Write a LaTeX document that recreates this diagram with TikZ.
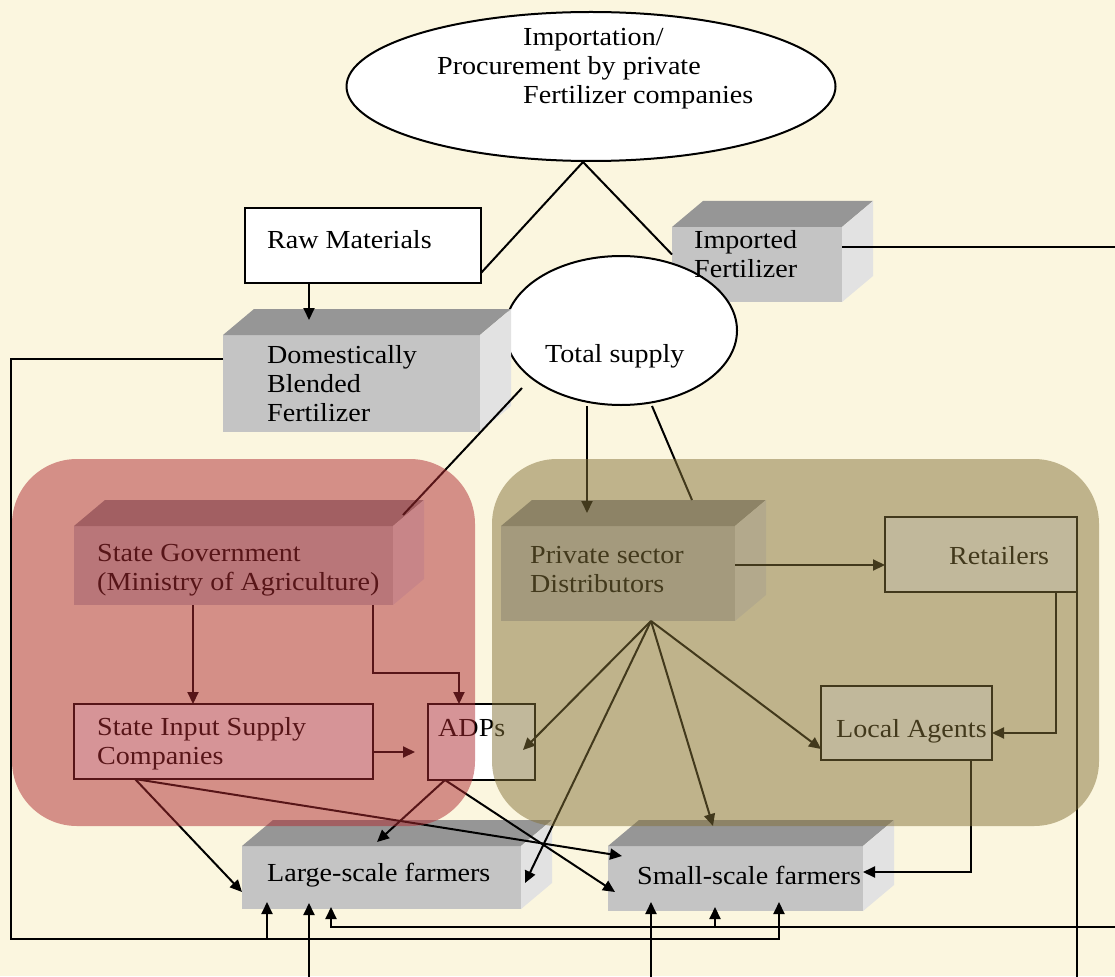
\documentclass[tikz,border=0pt]{standalone}
\usepackage{fontspec}
\setmainfont{Liberation Serif}[FakeStretch=1.08]
\usetikzlibrary{arrows.meta,shapes.geometric}
\definecolor{bgc}{RGB}{251,246,223}
\definecolor{redp}{RGB}{175,42,48}
\definecolor{tanp}{RGB}{133,114,56}
\definecolor{cfront}{RGB}{196,196,196}
\definecolor{ctop}{RGB}{150,150,150}
\definecolor{cside}{RGB}{226,226,226}
\newcommand\mycube[5]{%
  \node[cubefront, minimum width=#4pt, minimum height=#5pt, anchor=north west] (#1) at (#2,#3) {};
  \fill[ctop] (#1.north west) -- ([shift={(31,-26)}]#1.north west) -- ([shift={(31,-26)}]#1.north east) -- (#1.north east) -- cycle;
  \fill[cside] (#1.north east) -- ([shift={(31,-26)}]#1.north east) -- ([shift={(31,-26)}]#1.south east) -- (#1.south east) -- cycle;
}
\newcommand\myflat[5]{%
  \node[flatbox, minimum width=#4pt, minimum height=#5pt, anchor=north west] (#1) at (#2,#3) {};
}
\begin{document}
\begin{tikzpicture}[x=1pt,y=-1pt,
  cubefront/.style={fill=cfront, inner sep=0, outer sep=0},
  flatbox/.style={draw=black, fill=white, line width=1.5pt, inner sep=0, outer sep=0},
  oval/.style={ellipse, draw=black, fill=white, line width=2pt, inner sep=0},
  txt/.style={font=\fontsize{26}{29}\selectfont, inner sep=0, align=left, anchor=west},
  ln/.style={draw=black, line width=2pt},
  arr/.style={ln, -{Triangle[length=12pt,width=11pt]}},
  panel/.style={fill opacity=0.5, rounded corners=65pt}]
\useasboundingbox (0,0) rectangle (1115,976);
\clip (0,0) rectangle (1115,976);
\fill[bgc] (0,0) rectangle (1115,976);

% imported fertilizer box
\mycube{imf}{672}{227}{170}{75}
% top ellipse
\node[oval, minimum width=489pt, minimum height=149pt] (imp) at (591,86.5) {};
\myflat{rm}{245}{208}{236}{75}
\coordinate (apex) at (583,162);
\draw[ln] (apex) -- ([yshift=10pt]rm.south east);
\draw[ln] (apex) -- ([yshift=10pt]imf.west);
% total supply
\node[oval, minimum width=232pt, minimum height=149pt] (ts) at (621,330.5) {};
% domestically blended
\mycube{dbf}{223}{335}{257}{97}
% other boxes
\mycube{sg}{74}{526}{319}{79}
\mycube{ps}{501}{526}{234}{95}
\mycube{lsf}{242}{846}{279}{63}
\mycube{ssf}{608}{846}{255}{65}
\myflat{sis}{74}{704}{299}{75}
\myflat{adp}{428}{704}{107}{76}
\myflat{ret}{885}{517}{192}{75}
\myflat{la}{821}{686}{171}{74}

% connectors
\draw[arr] ([xshift=-54pt]rm.south) -- ++(0,37);
\coordinate (cornerL) at (11,939);
\draw[arr] ([yshift=25pt]dbf.west) -| (cornerL) -| ([xshift=43.5pt,yshift=9pt]ssf.south);
\coordinate (brL) at (267,939);
\draw[arr] (brL) -- ([xshift=-114.5pt,yshift=7pt]lsf.south);
\coordinate (cornerR2) at (1130,927);
\draw[arr] ([yshift=18pt]imf.east) -| (cornerR2) -| ([xshift=-50.5pt,yshift=2pt]lsf.south);
\coordinate (brR) at (715,927);
\draw[arr] (brR) -- ([xshift=-20.5pt,yshift=4pt]ssf.south);
\coordinate (inL) at (309,990);
\draw[arr] (inL) -- ([xshift=-72.5pt,yshift=6pt]lsf.south);
\coordinate (inS) at (651,990);
\draw[arr] (inS) -- ([xshift=-84.5pt,yshift=9pt]ssf.south);
\coordinate (outR) at (1077,990);
\draw[ln] (ret.south east) -- (outR);
\draw[arr] ([xshift=-21pt]ret.south east) |- ([yshift=-10pt]la.east);
\draw[arr] ([xshift=-21pt]la.south east) |- ([yshift=6.5pt]ssf.east);
\draw[arr] ([yshift=8.5pt]ps.east) -- ([yshift=-10.5pt]ret.west);
\coordinate (ts1) at (522,388);
\draw[ln] (ts1) -- ([shift={(10,-11)}]sg.north east);
\draw[arr] ([xshift=-34pt]ts.south) -- ([xshift=-31pt,yshift=13pt]ps.north);
\draw[ln] ([xshift=31pt]ts.south) -- ([shift={(-43,-26)}]ps.north east);
\draw[arr] ([xshift=-40.5pt]sg.south) -- ([xshift=-30.5pt]sis.north);
\draw[arr] ([xshift=-20pt]sg.south east) -- ++(0,68) -| ([xshift=-22.5pt]adp.north);
\draw[arr, shorten >=13pt] ([yshift=-10.5pt]sis.east) -- ([yshift=-10pt]adp.west);
\draw[arr] ([xshift=-88.5pt]sis.south) -- ([yshift=-14.5pt]lsf.west);
\draw[arr] ([xshift=-88.5pt]sis.south) -- ([xshift=14pt,yshift=22.5pt]ssf.west);
\draw[arr] ([xshift=-36.5pt]adp.south) -- ([xshift=-4.5pt,yshift=4pt]lsf.north);
\draw[arr] ([xshift=-36.5pt]adp.south) -- ([xshift=7pt,yshift=-13.5pt]ssf.west);
\coordinate (psb) at ([xshift=33pt]ps.south);
\draw[arr] (psb) -- ([xshift=-12pt,yshift=-8pt]adp.east);
\draw[arr] (psb) -- ([xshift=4pt,yshift=-5.5pt]lsf.east);
\draw[arr] (psb) -- ([xshift=-22.5pt,yshift=20pt]ssf.north);
\draw[arr] (psb) -- ([yshift=-26pt]la.west);

% texts
\node[txt] (imp-t) at (437,69) {\hspace*{86pt}Importation/\\Procurement by private\\\hspace*{86pt}Fertilizer companies};
\node[txt] (rm-t) at (267,240) {Raw Materials};
\node[txt] (imf-t) at (694,254) {Imported\\Fertilizer};
\node[txt] (dbf-t) at (267,384) {Domestically\\Blended\\Fertilizer};
\node[txt] (ts-t) at (545,356) {Total supply};
\node[txt] (sg-t) at (97,570) {State Government\\(Ministry of Agriculture)};
\node[txt] (ps-t) at (530,570) {Private sector\\Distributors};
\node[txt] (ret-t) at (949,556) {Retailers};
\node[txt] (sis-t) at (97,744) {State Input Supply\\Companies};
\node[txt] (adp-t) at (438,728) {ADPs};
\node[txt] (la-t) at (836,731) {Local Agents};
\node[txt] (lsf-t) at (267,875) {Large-scale farmers};
\node[txt] (ssf-t) at (637,875) {Small-scale farmers};

% translucent panels
\fill[panel, redp] (12,459) rectangle (475,826);
\fill[panel, tanp] (492,459) rectangle (1099,826);
\end{tikzpicture}
\end{document}
